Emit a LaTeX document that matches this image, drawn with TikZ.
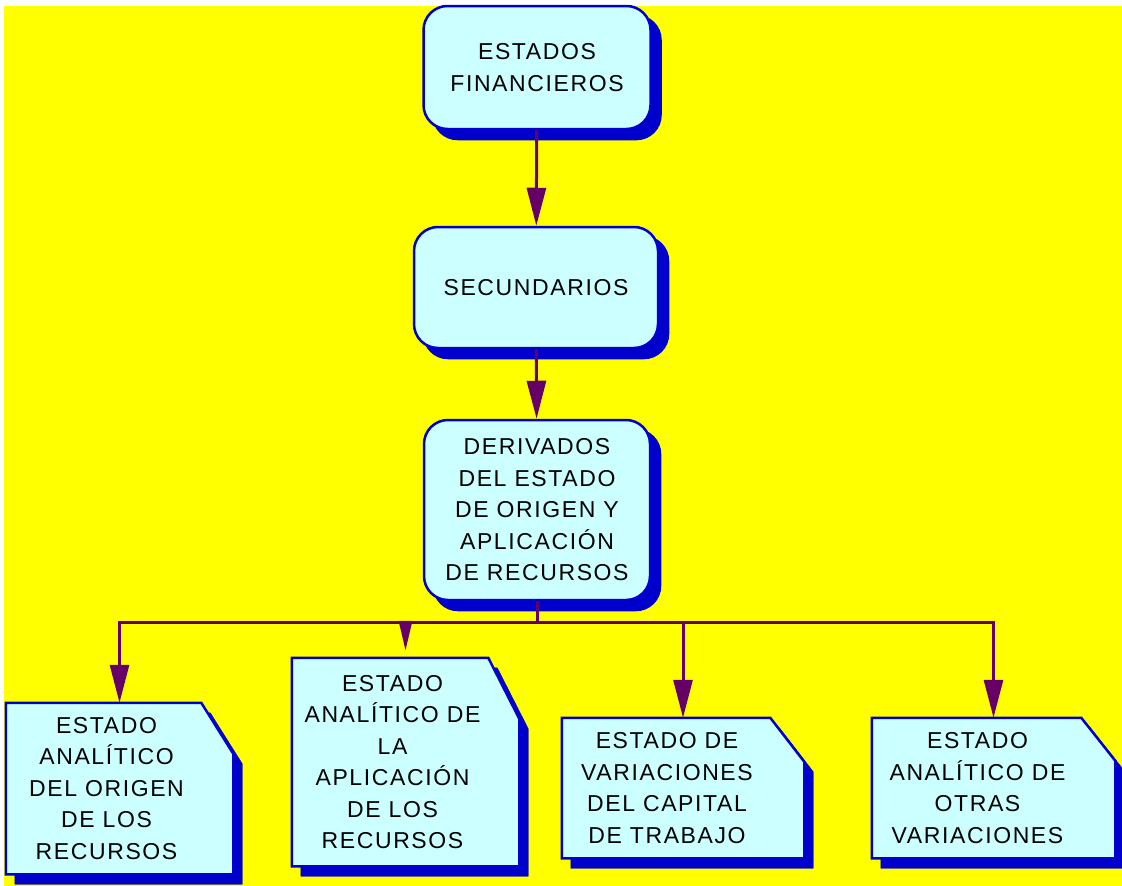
\documentclass[tikz,border=0pt]{standalone}
\usepackage{fontspec}
\setmainfont{Liberation Sans}[LetterSpace=7]
\usetikzlibrary{arrows.meta,shadows}

\definecolor{amarillo}{RGB}{255,255,0}
\definecolor{celeste}{RGB}{204,255,255}
\definecolor{azul}{RGB}{0,0,204}
\definecolor{morado}{RGB}{102,0,102}

% contorno de hoja con la esquina cortada
\newcommand{\hojapath}[3]{(#1.north west) -- ([xshift=-#2]#1.north east)
  -- ([yshift=-#3]#1.north east) -- (#1.south east) -- (#1.south west) -- cycle}

\begin{document}
\begin{tikzpicture}[x=1pt, y=-1pt,
    caja/.style={draw=azul, line width=2.5pt, fill=celeste, rounded corners=24pt,
      copy shadow={shadow xshift=10pt, shadow yshift=-10pt, fill=azul, draw=azul},
      align=center, font=\fontsize{23}{31.5}\selectfont},
    hoja/.style={inner sep=0pt, outer sep=1.25pt},
    hojaborde/.style={draw=azul, line width=2.5pt, fill=celeste,
      copy shadow={shadow xshift=9pt, shadow yshift=-10pt, fill=azul, draw=azul}},
    texto/.style={align=center, inner sep=0pt, font=\fontsize{23}{31.5}\selectfont},
    linea/.style={draw=morado, line width=3pt},
    flecha/.style={linea, -{Triangle[length=38pt, width=19pt]}}]

    \path[use as bounding box, fill=white] (0,0) rectangle (1122,886);
    \fill[amarillo] (4,6) rectangle (1122,886);

    \node[caja, minimum width=227pt, minimum height=123pt] (fin) at (537,67.5)
      {ESTADOS\\FINANCIEROS};
    \node[caja, minimum width=244pt, minimum height=121pt] (sec) at (536,287.5)
      {SECUNDARIOS};
    \node[caja, minimum width=226pt, minimum height=180pt] (der) at (537,510)
      {DERIVADOS\\DEL ESTADO\\DE ORIGEN Y\\APLICACIÓN\\DE RECURSOS};

    % hojas de abajo
    \node[hoja, minimum width=225pt, minimum height=169pt] (ori) at (119.5,788.5) {};
    \draw[hojaborde] \hojapath{ori}{32pt}{51pt};
    \node[texto] (ori-t) at ([xshift=-13pt]ori.center)
      {ESTADO\\ANALÍTICO\\DEL ORIGEN\\DE LOS\\RECURSOS};

    \node[hoja, minimum width=225pt, minimum height=206pt] (apl) at (405.5,762) {};
    \draw[hojaborde] \hojapath{apl}{31pt}{61pt};
    \node[texto] (apl-t) at ([xshift=-13pt]apl.center)
      {ESTADO\\ANALÍTICO DE\\LA\\APLICACIÓN\\DE LOS\\RECURSOS};

    \node[hoja, minimum width=240pt, minimum height=138pt] (cap) at (683,788) {};
    \draw[hojaborde] \hojapath{cap}{34pt}{44pt};
    \node[texto] (cap-t) at ([xshift=-16pt]cap.center)
      {ESTADO DE\\VARIACIONES\\DEL CAPITAL\\DE TRABAJO};

    \node[hoja, minimum width=241pt, minimum height=138pt] (otr) at (993.5,788) {};
    \draw[hojaborde] \hojapath{otr}{34pt}{43pt};
    \node[texto] (otr-t) at ([xshift=-16pt]otr.center)
      {ESTADO\\ANALÍTICO DE\\OTRAS\\VARIACIONES};

    \draw[flecha] (fin) -- (sec);
    \draw[flecha] (sec) -- (der);

    \coordinate (bus) at ([yshift=-21pt]der.south);
    \draw[flecha] (der.south) -- (bus) -| (ori.north);
    \draw[flecha] (bus) -| (otr.north);
    \draw[flecha] (bus -| cap.north) -- (cap.north);
    \draw[linea, -{Triangle[length=30pt, width=13pt]}, shorten >=7pt] (bus -| apl.north) -- (apl.north);
%    \draw[flecha] (bus -| apl.north) -- (apl.north);
  \end{tikzpicture}
\end{document}
